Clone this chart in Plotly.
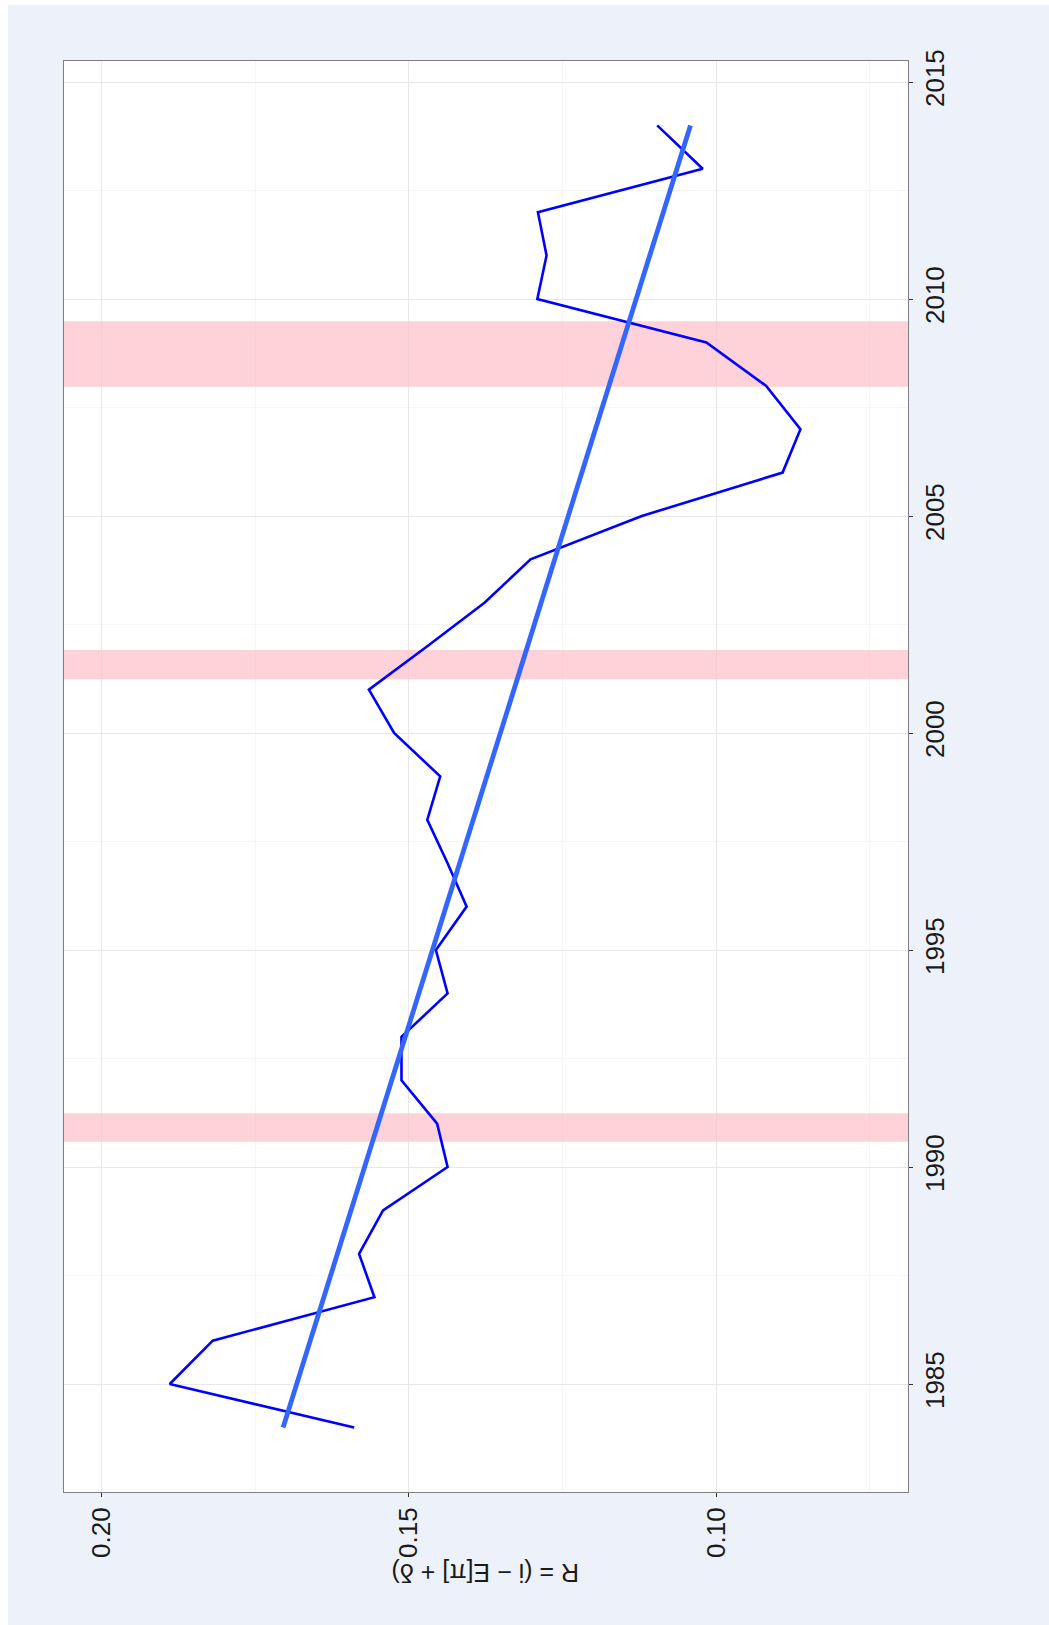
import numpy as np
import plotly.graph_objects as go

# ---- data ----
years = list(range(1984, 2015))
r_values = [0.1589, 0.1889, 0.1819, 0.1556, 0.1581, 0.1542, 0.1437, 0.1454,
            0.1512, 0.1512, 0.1437, 0.1456, 0.1406, 0.1437, 0.1470, 0.1449,
            0.1524, 0.1565, 0.1470, 0.1377, 0.1302, 0.1121, 0.0892, 0.0863,
            0.0919, 0.1016, 0.1291, 0.1276, 0.1290, 0.1022, 0.1096]
recession_start = [1990.58, 2001.24, 2007.98]
recession_end = [1991.24, 2001.91, 2009.49]
x_tick_vals = [0.10, 0.15, 0.20]
x_tick_text = ["0.10", "0.15", "0.20"]
y_tick_vals = [1985, 1990, 1995, 2000, 2005, 2010, 2015]
y_tick_text = ["1985", "1990", "1995", "2000", "2005", "2010", "2015"]
axis_title = "R = (i − E[π] + δ)"

X_RANGE = [0.2061, 0.0688]
Y_RANGE = [1982.512, 2015.484]

# linear trend (lm fit)
slope, intercept = np.polyfit(years, r_values, 1)
trend_years = [years[0], years[-1]]
trend_vals = [slope * y + intercept for y in trend_years]

BG = "#EDF2FA"
FONT = "Liberation Sans, Arial, sans-serif"

fig = go.Figure()
# recession bands spanning the whole panel width
for s, e in zip(recession_start, recession_end):
    fig.add_trace(go.Scatter(x=[X_RANGE[0], X_RANGE[1], X_RANGE[1], X_RANGE[0]],
                             y=[s, s, e, e], mode="lines", fill="toself",
                             fillcolor="rgba(255,192,203,0.72)", line=dict(width=0),
                             hoverinfo="skip", showlegend=False))
fig.add_trace(go.Scatter(x=r_values, y=years, mode="lines",
                         line=dict(color="#0000FF", width=2.6), showlegend=False))
fig.add_trace(go.Scatter(x=trend_vals, y=trend_years, mode="lines",
                         line=dict(color="#3366FF", width=4.8), showlegend=False))

# thin white strips along the top and left edges of the picture
shapes = [
    dict(type="rect", xref="paper", yref="paper", x0=-0.08, x1=-0.0664, y0=-0.1, y1=1.05,
         fillcolor="white", line=dict(width=0), layer="below"),
    dict(type="rect", xref="paper", yref="paper", x0=-0.08, x1=1.2, y0=1.0391, y1=1.05,
         fillcolor="white", line=dict(width=0), layer="below"),
]

fig.update_layout(
    width=1049, height=1625,
    margin=dict(l=64, r=141, t=61, b=133),
    paper_bgcolor=BG, plot_bgcolor="white",
    font=dict(family=FONT, color="#1a1a1a"),
    shapes=shapes,
    annotations=[dict(text=axis_title, xref="paper", yref="paper", x=0.5, y=-0.0566,
                      showarrow=False, textangle=180, xanchor="center", yanchor="middle",
                      font=dict(family=FONT, size=25, color="#1a1a1a"))],
)
fig.update_xaxes(
    range=X_RANGE, tickvals=x_tick_vals, ticktext=x_tick_text,
    tickangle=-90, tickfont=dict(size=26, color="#1a1a1a"),
    ticks="outside", ticklen=4, tickcolor="#333333",
    showgrid=True, gridcolor="#E8E8E8", gridwidth=1.2,
    minor=dict(tick0=0, dtick=0.025, showgrid=True, gridcolor="#F5F5F5", gridwidth=1, ticklen=0),
    showline=True, mirror=True, linecolor="#7F7F7F", linewidth=1, zeroline=False,
)
fig.update_yaxes(
    range=Y_RANGE, side="right", tickvals=y_tick_vals, ticktext=y_tick_text,
    tickangle=-90, tickfont=dict(size=26, color="#1a1a1a"),
    ticks="outside", ticklen=4, tickcolor="#333333",
    showgrid=True, gridcolor="#E8E8E8", gridwidth=1.2,
    minor=dict(tick0=1980, dtick=2.5, showgrid=True, gridcolor="#F5F5F5", gridwidth=1, ticklen=0),
    showline=True, mirror=True, linecolor="#7F7F7F", linewidth=1, zeroline=False,
)

fig.write_html("out.html", config={"displayModeBar": False},
               post_script="document.body.style.margin='0';document.body.style.overflow='hidden';")
